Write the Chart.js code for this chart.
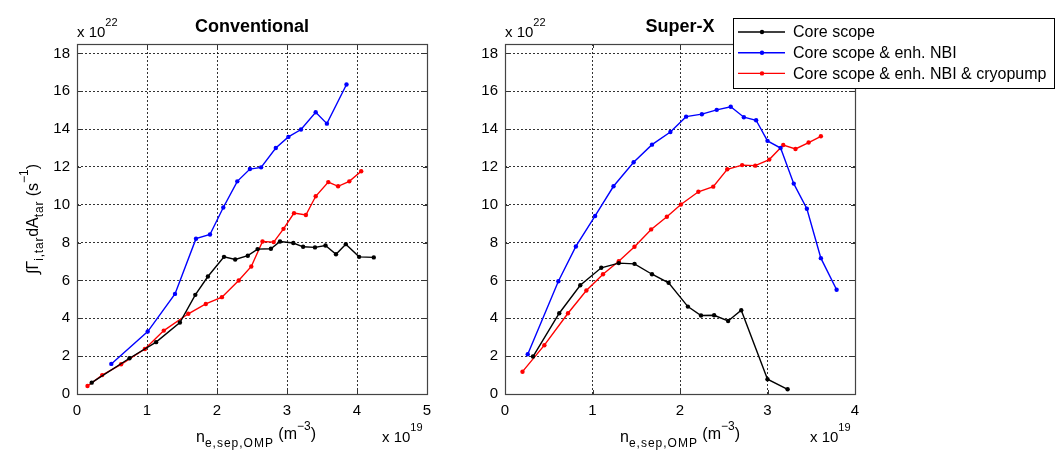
<!DOCTYPE html>
<html><head><meta charset="utf-8">
<script src="https://cdn.jsdelivr.net/npm/chart.js@4/dist/chart.umd.min.js"></script>
<style>
html,body{margin:0;padding:0;background:#fff;}
#wrap{position:relative;width:1055px;height:450px;overflow:hidden;background:#fff;}
canvas{position:absolute;top:0;}
</style></head><body>
<div id="wrap">
<canvas id="c1" width="470" height="450" style="left:0px"></canvas>
<canvas id="c2" width="585" height="450" style="left:470px"></canvas>
</div>
<script>
// ---- data (x in 1e19 m^-3, y in 1e22 s^-1) ----
const seriesLabels = ['Core scope', 'Core scope & enh. NBI', 'Core scope & enh. NBI & cryopump'];
const seriesColors = ['#000000', '#0000ff', '#ff0000'];
const panelTitles = ['Conventional', 'Super-X'];

const convCoreX = [0.21, 0.75, 1.13, 1.47, 1.69, 1.87, 2.10, 2.26, 2.44, 2.58, 2.77, 2.90, 3.09, 3.23, 3.40, 3.55, 3.70, 3.84, 4.03, 4.24];
const convCoreY = [0.60, 1.89, 2.74, 3.78, 5.24, 6.21, 7.25, 7.11, 7.31, 7.66, 7.68, 8.06, 7.98, 7.78, 7.75, 7.85, 7.39, 7.92, 7.25, 7.22];
const convNbiX = [0.49, 1.01, 1.40, 1.70, 1.90, 2.09, 2.29, 2.47, 2.63, 2.84, 3.02, 3.20, 3.41, 3.57, 3.85];
const convNbiY = [1.59, 3.30, 5.29, 8.21, 8.43, 9.86, 11.24, 11.89, 11.98, 13.00, 13.59, 13.98, 14.89, 14.29, 16.36];
const convCryoX = [0.15, 0.36, 0.63, 0.97, 1.24, 1.59, 1.84, 2.07, 2.31, 2.49, 2.65, 2.81, 2.95, 3.10, 3.27, 3.41, 3.59, 3.73, 3.89, 4.06];
const convCryoY = [0.42, 1.00, 1.57, 2.38, 3.35, 4.24, 4.76, 5.12, 6.00, 6.74, 8.06, 8.03, 8.73, 9.56, 9.46, 10.45, 11.20, 10.98, 11.24, 11.77];

const sxCoreX = [0.32, 0.62, 0.86, 1.10, 1.30, 1.48, 1.68, 1.87, 2.09, 2.24, 2.39, 2.55, 2.70, 3.00, 3.23];
const sxCoreY = [1.98, 4.27, 5.75, 6.67, 6.92, 6.88, 6.33, 5.88, 4.62, 4.15, 4.16, 3.86, 4.43, 0.78, 0.25];
const sxNbiX = [0.26, 0.61, 0.81, 1.03, 1.24, 1.47, 1.68, 1.89, 2.07, 2.25, 2.42, 2.58, 2.73, 2.87, 3.00, 3.15, 3.30, 3.45, 3.61, 3.79];
const sxNbiY = [2.10, 5.96, 7.80, 9.41, 10.98, 12.25, 13.18, 13.85, 14.66, 14.79, 15.02, 15.18, 14.63, 14.47, 13.38, 13.00, 11.12, 9.79, 7.18, 5.51];
const sxCryoX = [0.20, 0.45, 0.72, 0.93, 1.12, 1.30, 1.48, 1.67, 1.85, 2.01, 2.21, 2.38, 2.54, 2.71, 2.86, 3.02, 3.18, 3.32, 3.47, 3.61];
const sxCryoY = [1.18, 2.58, 4.27, 5.47, 6.33, 7.02, 7.78, 8.70, 9.37, 10.02, 10.69, 10.96, 11.88, 12.10, 12.07, 12.39, 13.16, 12.95, 13.29, 13.62];

const xTicksConv = [0, 1, 2, 3, 4, 5];
const xTicksSx = [0, 1, 2, 3, 4];
const yTicks = [0, 2, 4, 6, 8, 10, 12, 14, 16, 18];

const FONT = '"Liberation Sans", Arial, Helvetica, sans-serif';

function pts(xs, ys) { return xs.map((x, i) => ({ x: x, y: ys[i] })); }
function makeDatasets(list) {
  return list.map((d, i) => ({
    label: seriesLabels[i],
    data: pts(d[0], d[1]),
    borderColor: seriesColors[i],
    backgroundColor: seriesColors[i],
    pointBackgroundColor: seriesColors[i],
    pointBorderColor: seriesColors[i],
    pointRadius: 2.2,
    pointBorderWidth: 0,
    borderWidth: 1.4,
    tension: 0,
    fill: false
  }));
}

function richWidth(ctx, parts) {
  let w = 0;
  parts.forEach(p => {
    ctx.font = (p.bold ? 'bold ' : '') + p.size + 'px ' + FONT;
    ctx.letterSpacing = (p.ls || 0) + 'px';
    p.w = ctx.measureText(p.t).width;
    w += p.w;
  });
  ctx.letterSpacing = '0px';
  return w;
}
function drawRich(ctx, parts, x, y, align) {
  const w = richWidth(ctx, parts);
  let cx = align === 'center' ? x - w / 2 : (align === 'right' ? x - w : x);
  ctx.textBaseline = 'alphabetic';
  ctx.textAlign = 'left';
  parts.forEach(p => {
    ctx.font = (p.bold ? 'bold ' : '') + p.size + 'px ' + FONT;
    ctx.letterSpacing = (p.ls || 0) + 'px';
    ctx.fillText(p.t, cx, y + (p.dy || 0));
    cx += p.w;
  });
  ctx.letterSpacing = '0px';
}

const decoPlugin = {
  id: 'deco',
  afterDatasetsDraw(chart, args, opts) {
    const ctx = chart.ctx;
    const a = chart.chartArea;
    const xs = chart.scales.x, ys = chart.scales.y;
    ctx.save();
    ctx.setLineDash([]);
    ctx.strokeStyle = '#333';
    ctx.lineWidth = 1;
    ctx.beginPath();
    xs.ticks.forEach(t => {
      const px = Math.round(xs.getPixelForValue(t.value)) + 0.5;
      ctx.moveTo(px, a.bottom); ctx.lineTo(px, a.bottom - 4);
      ctx.moveTo(px, a.top); ctx.lineTo(px, a.top + 4);
    });
    ys.ticks.forEach(t => {
      const py = Math.round(ys.getPixelForValue(t.value)) + 0.5;
      ctx.moveTo(a.left, py); ctx.lineTo(a.left + 4, py);
      ctx.moveTo(a.right, py); ctx.lineTo(a.right - 4, py);
    });
    ctx.stroke();
    ctx.strokeStyle = '#444';
    ctx.lineWidth = 1.2;
    ctx.strokeRect(Math.round(a.left) + 0.5, Math.round(a.top) + 0.5, Math.round(a.right - a.left), Math.round(a.bottom - a.top));

    ctx.fillStyle = '#000';
    const cxm = (a.left + a.right) / 2;
    drawRich(ctx, [{ t: opts.title, size: 18, bold: true }], cxm, 32, 'center');
    drawRich(ctx, [{ t: 'x 10', size: 15 }, { t: '22', size: 11, dy: -11 }], a.left, 37, 'left');
    drawRich(ctx, [{ t: 'x 10', size: 15 }, { t: '19', size: 11, dy: -11 }], a.right - 45, 442, 'left');
    drawRich(ctx, [
      { t: 'n', size: 16 },
      { t: 'e,sep,OMP', size: 12, dy: 5, ls: 1 },
      { t: ' ', size: 16 },
      { t: '(m', size: 16, dy: -3 },
      { t: '\u22123', size: 12, dy: -12 },
      { t: ')', size: 16, dy: -3 }
    ], cxm + (opts.showY ? 4 : 0), 442, 'center');
    if (opts.showY) {
      ctx.save();
      ctx.translate(38, (a.top + a.bottom) / 2);
      ctx.rotate(-Math.PI / 2);
      drawRich(ctx, [
        { t: '\u222B\u0393', size: 16 },
        { t: 'i,tar', size: 12, dy: 5, ls: 0.8 },
        { t: 'dA', size: 16 },
        { t: 'tar', size: 12, dy: 5, ls: 0.8 },
        { t: ' (s', size: 16 },
        { t: '\u22121', size: 12, dy: -10 },
        { t: ')', size: 16 }
      ], 0, 0, 'center');
      ctx.restore();
    }
    if (opts.legend) {
      const L = opts.legend;
      const lx = L.x - chart.canvas.offsetLeft;
      ctx.fillStyle = '#fff';
      ctx.fillRect(lx, L.y, L.w, L.h);
      ctx.strokeStyle = '#000';
      ctx.lineWidth = 1;
      ctx.strokeRect(lx + 0.5, L.y + 0.5, L.w, L.h);
      chart.data.datasets.forEach((ds, i) => {
        const ry = L.y + 14 + i * 20.7;
        ctx.strokeStyle = ds.borderColor;
        ctx.lineWidth = 1.4;
        ctx.beginPath();
        ctx.moveTo(lx + 5, ry); ctx.lineTo(lx + 52, ry);
        ctx.stroke();
        ctx.fillStyle = ds.borderColor;
        ctx.beginPath();
        ctx.arc(lx + 29, ry, 2.2, 0, Math.PI * 2);
        ctx.fill();
        ctx.fillStyle = '#000';
        ctx.font = '16px ' + FONT;
        ctx.textBaseline = 'middle';
        ctx.textAlign = 'left';
        ctx.fillText(ds.label, lx + 60, ry + 1);
      });
    }
    ctx.restore();
  }
};

function makeChart(id, datasets, xmax, xTicks, yWidth, pad, deco) {
  const gridOpts = { color: 'rgba(0,0,0,0.8)', lineWidth: 1, drawTicks: false };
  const borderOpts = { display: false, dash: [2, 2] };
  return new Chart(document.getElementById(id), {
    type: 'line',
    data: { datasets: datasets },
    options: {
      responsive: false,
      animation: false,
      layout: { padding: pad },
      plugins: { legend: { display: false }, title: { display: false }, tooltip: { enabled: false }, deco: deco },
      elements: { line: { tension: 0 } },
      scales: {
        x: {
          type: 'linear', min: 0, max: xmax,
          afterBuildTicks: s => { s.ticks = xTicks.map(v => ({ value: v })); },
          afterFit: s => { s.height = 30; },
          border: borderOpts,
          grid: gridOpts,
          ticks: { padding: 8, color: '#000', font: { family: FONT, size: 15 }, callback: v => String(v) }
        },
        y: {
          type: 'linear', min: 0, max: 18.5,
          afterBuildTicks: s => { s.ticks = yTicks.map(v => ({ value: v })); },
          afterFit: s => { s.width = yWidth; },
          border: borderOpts,
          grid: gridOpts,
          ticks: { padding: 7, color: '#000', font: { family: FONT, size: 15 }, callback: v => String(v) }
        }
      }
    },
    plugins: [decoPlugin]
  });
}

makeChart('c1',
  makeDatasets([[convCoreX, convCoreY], [convNbiX, convNbiY], [convCryoX, convCryoY]]),
  5, xTicksConv, 77, { left: 0, right: 43, top: 44, bottom: 26 },
  { title: panelTitles[0], showY: true });

makeChart('c2',
  makeDatasets([[sxCoreX, sxCoreY], [sxNbiX, sxNbiY], [sxCryoX, sxCryoY]]),
  4, xTicksSx, 35, { left: 0, right: 200, top: 44, bottom: 26 },
  { title: panelTitles[1], showY: false, legend: { x: 733, y: 18, w: 321, h: 70 } });
</script>
</body></html>
